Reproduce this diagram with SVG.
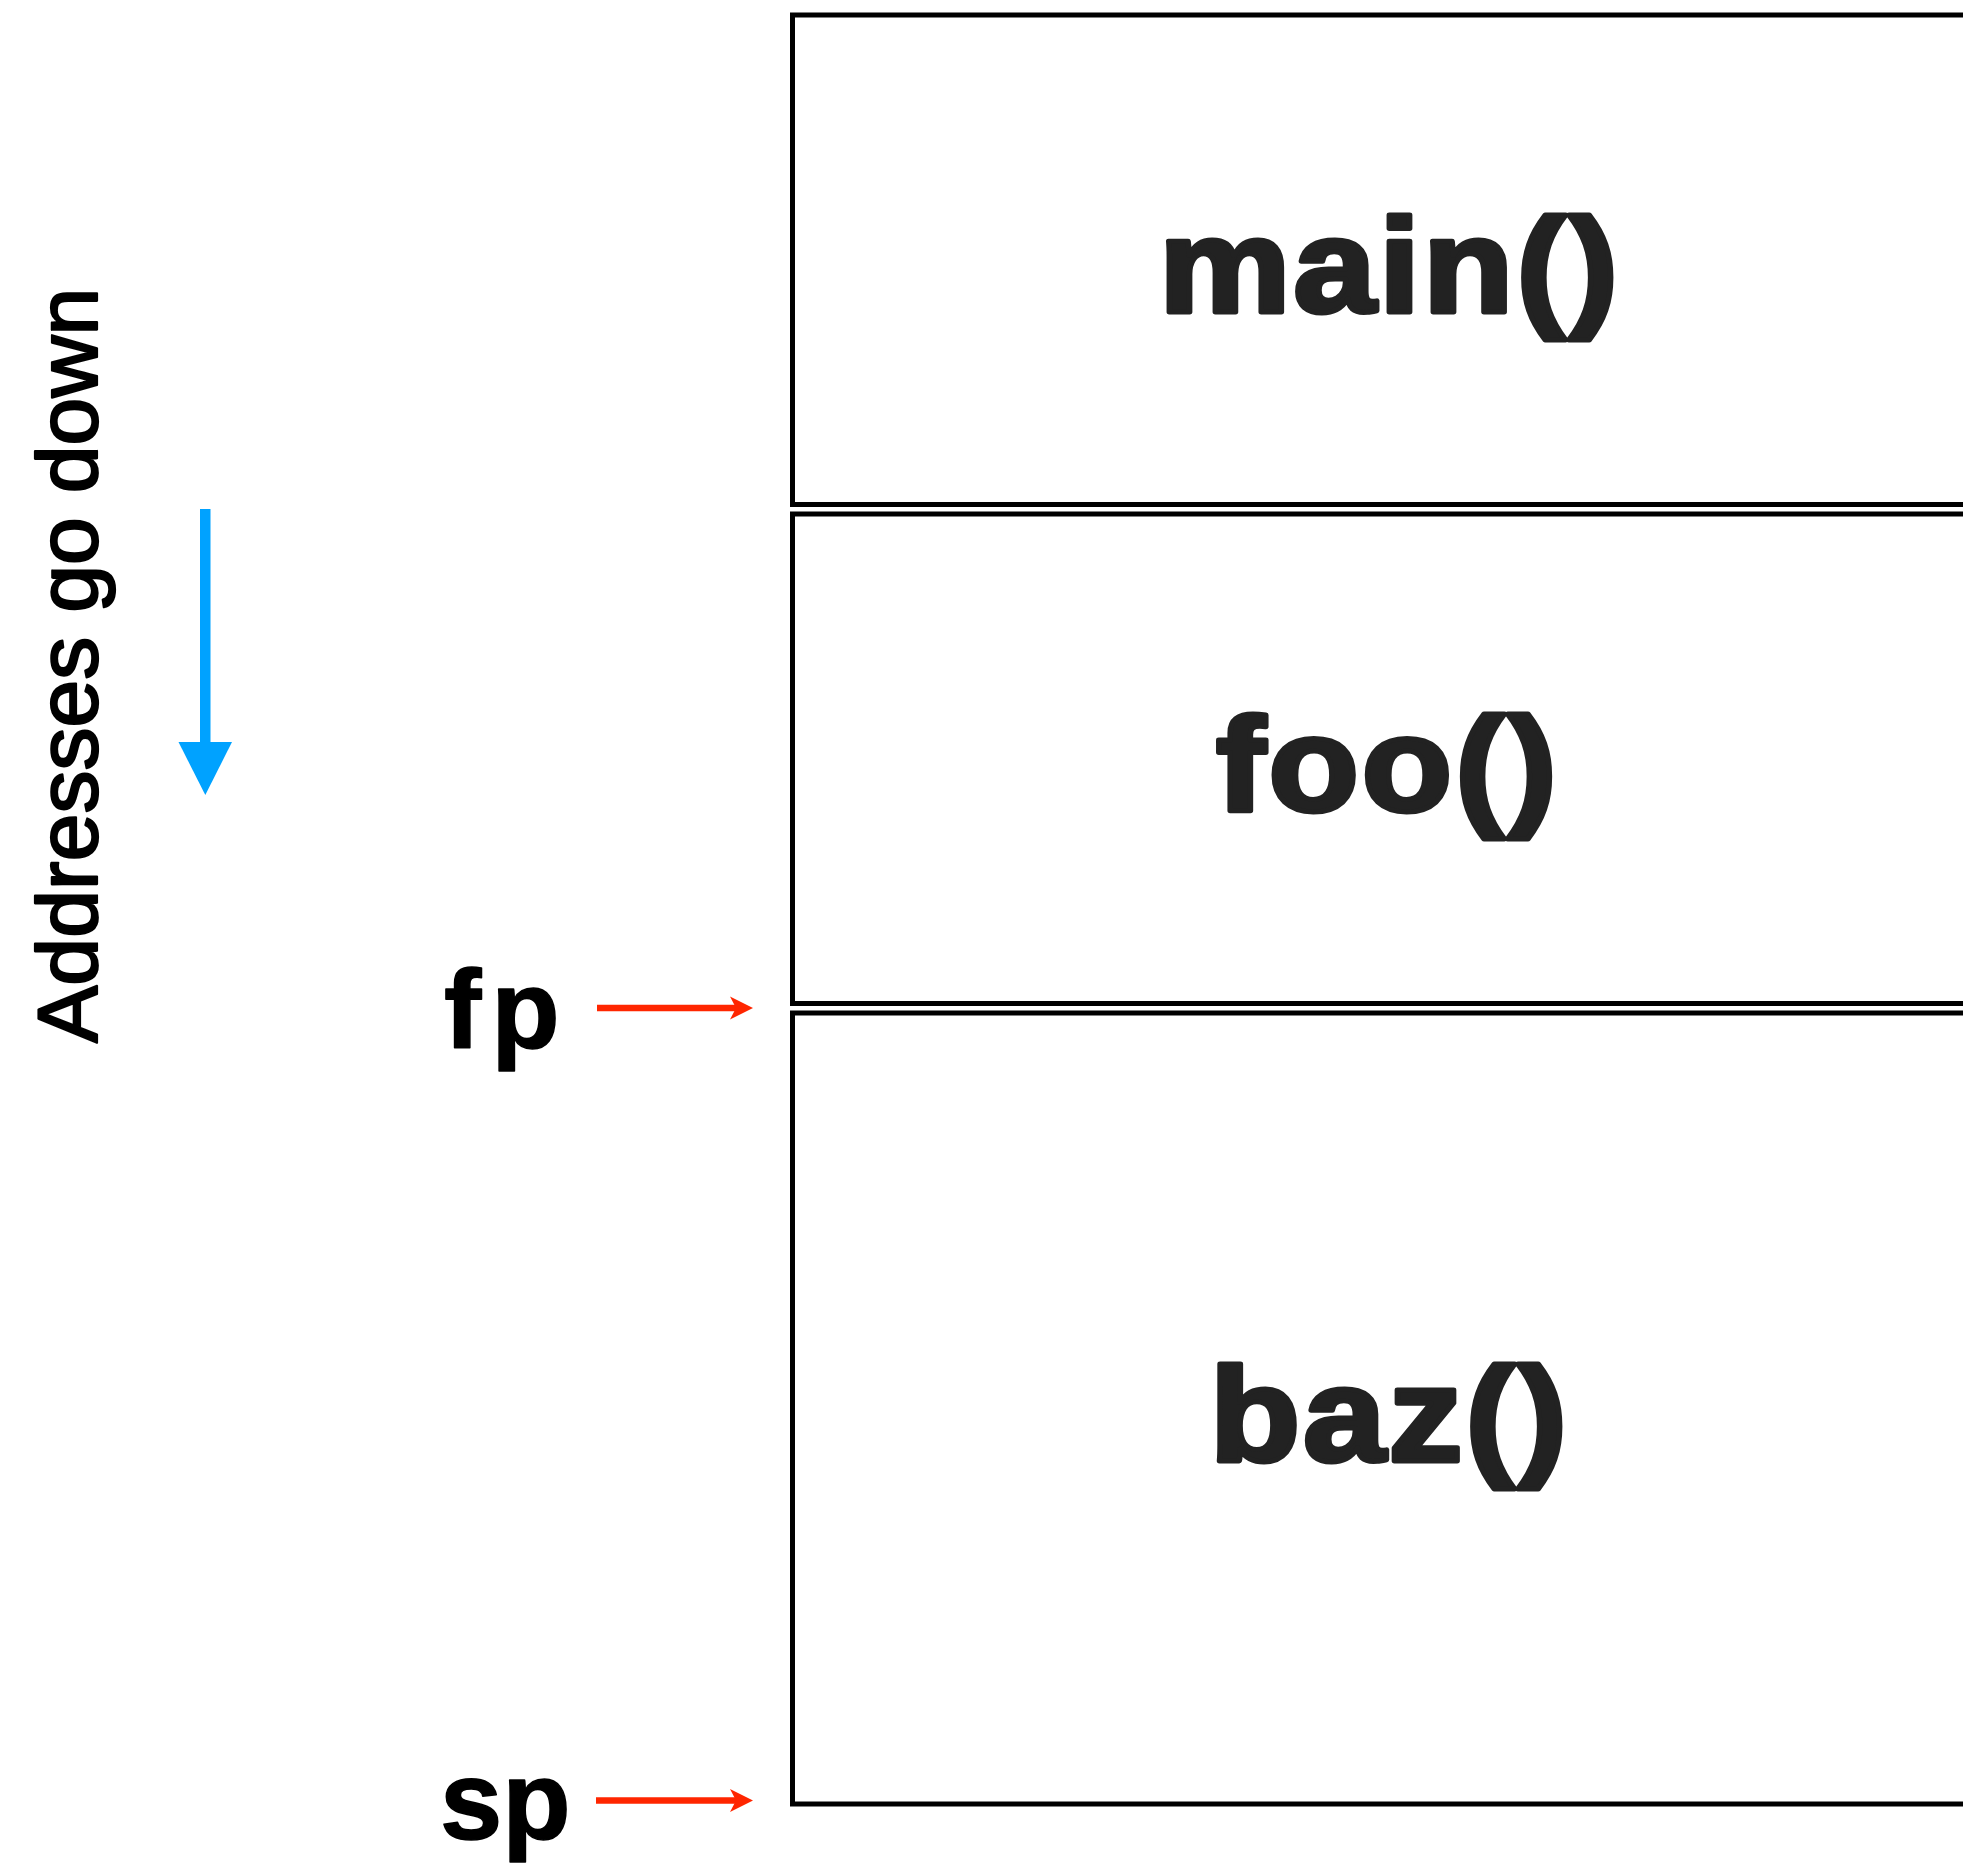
<svg xmlns="http://www.w3.org/2000/svg" width="1963" height="1865" viewBox="0 0 1963 1865">
  <style>
    .frame { fill: #ffffff; stroke: #000000; stroke-width: 5; }
    .fname { font-family: "Liberation Sans", Arial, sans-serif; font-weight: bold; font-size: 148px; letter-spacing: 3px; fill: #222222; stroke: #222222; stroke-width: 5.5; stroke-linejoin: round; text-anchor: middle; }
    .reg { font-family: "Liberation Sans", Arial, sans-serif; font-weight: bold; font-size: 112px; fill: #000000; stroke: #000000; stroke-width: 1.5; stroke-linejoin: round; }
    .axis { font-family: "Liberation Sans", Arial, sans-serif; font-size: 86px; fill: #000000; stroke: #000000; stroke-width: 2.2; stroke-linejoin: round; }
    .ptr { stroke: #ff2600; stroke-width: 6.5; fill: none; marker-end: url(#redhead); }
  </style>
  <defs>
    <marker id="redhead" markerUnits="userSpaceOnUse" viewBox="0 0 24 24" markerWidth="24" markerHeight="24" refX="10" refY="12" orient="auto">
      <path d="M0,0.5 L23,12 L0,23.5 L6,12 Z" fill="#ff2600"/>
    </marker>
  </defs>

  <rect width="1963" height="1865" fill="#ffffff"/>

  <!-- stack frames -->
  <g id="frame-main">
    <rect class="frame" x="792.5" y="15" width="1300" height="489.5"/>
    <text class="fname" transform="translate(1390,312) scale(1,0.9)">main()</text>
  </g>
  <g id="frame-foo">
    <rect class="frame" x="792.5" y="514" width="1300" height="489.5"/>
    <text class="fname" transform="translate(1388,811) scale(1,0.9)">foo()</text>
  </g>
  <g id="frame-baz">
    <rect class="frame" x="792.5" y="1013" width="1300" height="791"/>
    <text class="fname" transform="translate(1390,1461) scale(1,0.9)">baz()</text>
  </g>

  <!-- direction legend -->
  <g id="legend">
    <text class="axis" transform="translate(97,1043) rotate(-90)">Addresses go down</text>
    <rect x="200" y="509" width="10.5" height="234" fill="#00a2ff"/>
    <polygon points="178.5,742 232,742 205.3,795" fill="#00a2ff"/>
  </g>

  <!-- register labels -->
  <g id="reg-fp">
    <text class="reg" x="444" y="1048" letter-spacing="10">fp</text>
  </g>
  <g id="reg-sp">
    <text class="reg" x="440" y="1839">sp</text>
  </g>

  <!-- pointers -->
  <g id="connectors">
    <line class="ptr" x1="597" y1="1008" x2="740" y2="1008"/>
    <line class="ptr" x1="596" y1="1800.5" x2="740" y2="1800.5"/>
  </g>
</svg>
